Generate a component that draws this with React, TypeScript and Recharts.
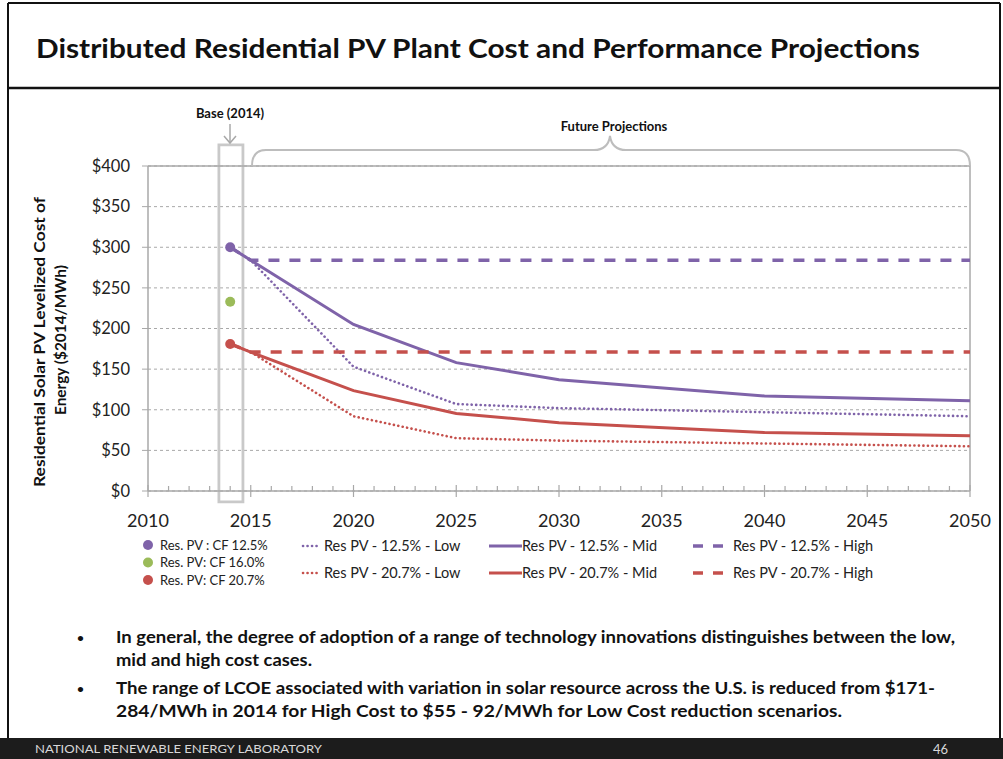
import React from 'react';
import {
  ComposedChart,
  Line,
  Scatter,
  XAxis,
  YAxis,
  CartesianGrid,
  ReferenceArea,
  ReferenceLine,
} from 'recharts';

// projection years and LCOE values ($2014/MWh)
const years = [2014, 2015, 2020, 2025, 2030, 2040, 2050];
const low125 = [300, 284, 153, 107, 102, 97, 92];
const mid125 = [300, 284, 205, 158, 137, 117, 111];
const high125 = [300, 284, 284, 284, 284, 284, 284];
const low207 = [181, 171, 92, 65, 62, 58.5, 55];
const mid207 = [181, 171, 123.5, 95.5, 84, 72, 68];
const high207 = [181, 171, 171, 171, 171, 171, 171];

// 2014 base points
const baseYear = 2014;
const baseLabels = ['Res. PV : CF 12.5%', 'Res. PV: CF 16.0%', 'Res. PV: CF 20.7%'];
const baseValues = [300, 233, 181];

const xTicks = Array.from({ length: 41 }, (_, i) => 2010 + i);
const yTicks = [0, 50, 100, 150, 200, 250, 300, 350, 400];

const PURPLE = '#7f63a9';
const RED = '#c5504c';
const GREEN = '#9bbb59';
const GRID = '#a8a8a8';
const FONT = 'Lato, "Open Sans", sans-serif';

const baseColors = [PURPLE, GREEN, RED];

const SERIES = [
  { key: 'low125', name: 'Res PV - 12.5% - Low', values: low125, color: PURPLE, style: 'dot' },
  { key: 'mid125', name: 'Res PV - 12.5% - Mid', values: mid125, color: PURPLE, style: 'solid' },
  { key: 'high125', name: 'Res PV - 12.5% - High', values: high125, color: PURPLE, style: 'dash' },
  { key: 'low207', name: 'Res PV - 20.7% - Low', values: low207, color: RED, style: 'dot' },
  { key: 'mid207', name: 'Res PV - 20.7% - Mid', values: mid207, color: RED, style: 'solid' },
  { key: 'high207', name: 'Res PV - 20.7%  - High', values: high207, color: RED, style: 'dash' },
];

const STROKES: Record<string, { width: number; dash?: string; cap?: 'round' | 'butt' }> = {
  dot: { width: 2.6, dash: '0.1 4.4', cap: 'round' },
  solid: { width: 3 },
  dash: { width: 3.5, dash: '11 10' },
};

// where each legend column sits: sample start, sample length, text start
const LEGEND_COLS: Record<string, { x: number; len: number; textX: number }> = {
  dot: { x: 303, len: 14, textX: 324 },
  solid: { x: 489, len: 33, textX: 522 },
  dash: { x: 693, len: 31, textX: 733 },
};

const rows = years.map((year, i) => {
  const row: Record<string, number> = { year };
  SERIES.forEach(s => {
    row[s.key] = s.values[i];
  });
  return row;
});

const YearTick = (props: any) => {
  const { x, y, payload } = props;
  const major = payload.value % 5 === 0;
  return (
    <g>
      <line
        x1={x}
        x2={x}
        y1={major ? y - 6 : y - 5}
        y2={major ? y + 6 : y}
        stroke={GRID}
        strokeWidth={1.2}
      />
      {major && (
        <text x={x} y={y + 36} textAnchor="middle" fontSize={18} fill="#222">
          {payload.value}
        </text>
      )}
    </g>
  );
};

const BaseDot = (props: any) => {
  const { cx, cy, fill } = props;
  return <circle cx={cx} cy={cy} r={5} fill={fill} />;
};

function ChartLegend() {
  return (
    <g fontFamily={FONT}>
      {baseLabels.map((label, i) => (
        <g key={label}>
          <circle cx={148} cy={545 + i * 17.5} r={5} fill={baseColors[i]} />
          <text x={160} y={545 + i * 17.5} dy="0.35em" fontSize={13} fill="#222">
            {label}
          </text>
        </g>
      ))}
      {['dot', 'solid', 'dash'].map(style =>
        SERIES.filter(s => s.style === style).map((s, r) => {
          const st = STROKES[s.style];
          const col = LEGEND_COLS[style];
          const y = 546 + r * 27;
          return (
            <g key={s.key}>
              <line
                x1={col.x}
                x2={col.x + col.len}
                y1={y}
                y2={y}
                stroke={s.color}
                strokeWidth={st.width}
                strokeDasharray={s.style === 'dash' ? '10 10' : st.dash}
                strokeLinecap={st.cap ?? 'butt'}
              />
              <text x={col.textX} y={y} dy="0.35em" fontSize={14.5} fill="#222">
                {s.name}
              </text>
            </g>
          );
        })
      )}
    </g>
  );
}

function SlideFrame() {
  return (
    <svg width={1003} height={759} style={{ position: 'absolute', left: 0, top: 0 }}>
      <rect x={0} y={0} width={1003} height={759} fill="#fff" />
      <g stroke="#111" fill="none">
        <line x1={8} x2={8} y1={3} y2={738} strokeWidth={2} />
        <line x1={8} x2={1000} y1={3} y2={3} strokeWidth={2} />
        <line x1={1000} x2={1000} y1={3} y2={738} strokeWidth={2} />
        <line x1={8} x2={1000} y1={88} y2={88} strokeWidth={2.5} />
      </g>
      <text x={36} y={58} fontFamily={FONT} fontWeight={700} fontSize={27} fill="#111" textLength={884} lengthAdjust="spacingAndGlyphs">
        Distributed Residential PV Plant Cost and Performance Projections
      </text>

      <g fontFamily={FONT} fontWeight={700} fontSize={16} fill="#111">
        <text x={45} y={342} transform="rotate(-90 45 342)" textAnchor="middle" textLength={290} lengthAdjust="spacingAndGlyphs">
          Residential Solar PV Levelized Cost of
        </text>
        <text x={66} y={340} transform="rotate(-90 66 340)" textAnchor="middle" textLength={150} lengthAdjust="spacingAndGlyphs">
          Energy ($2014/MWh)
        </text>
      </g>

      <g fontFamily={FONT} fontWeight={700} fill="#111">
        <text x={77} y={642} fontSize={12}>•</text>
        <text x={116} y={643} fontSize={17.5} textLength={839} lengthAdjust="spacingAndGlyphs">
          In general, the degree of adoption of a range of technology innovations distinguishes between the low,
        </text>
        <text x={116} y={666} fontSize={17.5} textLength={196} lengthAdjust="spacingAndGlyphs">
          mid and high cost cases.
        </text>
        <text x={77} y={693} fontSize={12}>•</text>
        <text x={116} y={694} fontSize={17.5} textLength={819} lengthAdjust="spacingAndGlyphs">
          The range of LCOE associated with variation in solar resource across the U.S. is reduced from $171-
        </text>
        <text x={116} y={717} fontSize={17.5} textLength={726} lengthAdjust="spacingAndGlyphs">
          284/MWh in 2014 for High Cost to $55 - 92/MWh for Low Cost reduction scenarios.
        </text>
      </g>

      <rect x={0} y={738} width={1003} height={21} fill="#1c1c1c" />
      <text x={35} y={753} fontFamily={FONT} fontSize={12} fill="#d8d8d8" textLength={287} lengthAdjust="spacingAndGlyphs">
        NATIONAL RENEWABLE ENERGY LABORATORY
      </text>
      <text x={933} y={754} fontFamily={FONT} fontSize={13} fill="#d8d8d8">
        46
      </text>
    </svg>
  );
}

function Annotations() {
  return (
    <svg width={1003} height={759} style={{ position: 'absolute', left: 0, top: 0, pointerEvents: 'none' }}>
      <g fontFamily={FONT} fontWeight={700} fontSize={13} fill="#111" textAnchor="middle">
        <text x={230} y={118}>Base (2014)</text>
        <text x={614} y={131}>Future Projections</text>
      </g>
      <g stroke="#a8a8a8" strokeWidth={1.5} fill="none">
        <line x1={230} x2={230} y1={124} y2={143} />
        <polyline points="224,136 230,143 236,136" />
      </g>
      <path
        d="M252,166 Q252,150 266,150 L594,150 Q608,150 610,136 Q612,150 626,150 L956,150 Q970,150 970,166"
        stroke="#bdbdbd"
        strokeWidth={2}
        fill="none"
      />
      <ChartLegend />
    </svg>
  );
}

export default function App() {
  return (
    <div
      style={{
        position: 'absolute',
        left: 0,
        top: 0,
        width: 1003,
        height: 759,
        overflow: 'hidden',
        fontFamily: FONT,
        background: '#fff',
      }}
    >
      <SlideFrame />
      <div style={{ position: 'absolute', left: 0, top: 0 }}>
        <ComposedChart
          width={1003}
          height={759}
          data={rows}
          margin={{ top: 166, right: 33, bottom: 228, left: 88 }}
        >
          <CartesianGrid vertical={false} stroke={GRID} strokeDasharray="3 3" />
          <ReferenceArea
            x1={2013.45}
            x2={2014.62}
            y1={-13.5}
            y2={426}
            ifOverflow="visible"
            fill="none"
            stroke="#c9c9c9"
            strokeWidth={2.8}
          />
          <XAxis
            dataKey="year"
            type="number"
            domain={[2010, 2050]}
            ticks={xTicks}
            interval={0}
            tickLine={false}
            tickSize={0}
            tickMargin={0}
            height={40}
            axisLine={{ stroke: GRID, strokeWidth: 1.5 }}
            tick={<YearTick />}
          />
          <YAxis
            type="number"
            domain={[0, 400]}
            ticks={yTicks}
            interval={0}
            width={60}
            tickSize={6}
            tickMargin={12}
            tickFormatter={(v: number) => `$${v}`}
            tick={{ fontSize: 16.5, fill: '#222' }}
            tickLine={{ stroke: GRID }}
            axisLine={{ stroke: GRID, strokeWidth: 1.5 }}
          />
          <ReferenceLine y={400} stroke={GRID} strokeWidth={1.5} />
          <ReferenceLine x={2050} stroke={GRID} strokeWidth={1.5} />
          {SERIES.map(s => {
            const st = STROKES[s.style];
            return (
              <Line
                key={s.key}
                dataKey={s.key}
                name={s.name}
                type="linear"
                stroke={s.color}
                strokeWidth={st.width}
                strokeDasharray={st.dash}
                strokeLinecap={st.cap ?? 'butt'}
                dot={false}
                activeDot={false}
                isAnimationActive={false}
              />
            );
          })}
          {baseValues.map((v, i) => (
            <Scatter
              key={baseLabels[i]}
              name={baseLabels[i]}
              data={[{ year: baseYear, value: v }]}
              dataKey="value"
              fill={baseColors[i]}
              shape={<BaseDot />}
              isAnimationActive={false}
            />
          ))}
        </ComposedChart>
      </div>
      <Annotations />
    </div>
  );
}
